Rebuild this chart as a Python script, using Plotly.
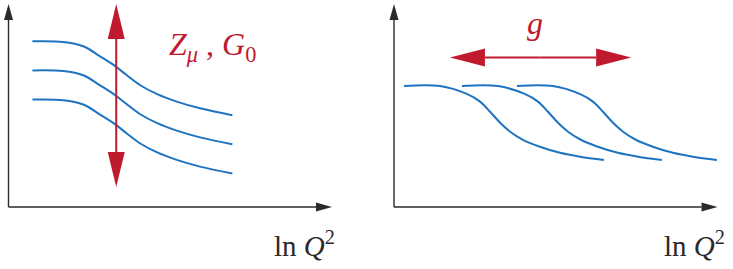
import plotly.graph_objects as go

# ---------------- data (axis units: both axes run 0..10, 10 = arrow tip) -------------
left_x = [0.74, 1.69, 2.31, 2.83, 3.29, 3.65, 4.06, 4.58, 5.20, 5.92, 6.92]
left_top = [8.16, 8.13, 7.92, 7.42, 6.95, 6.50, 6.01, 5.57, 5.19, 4.86, 4.52]
left_mid = [6.73, 6.70, 6.49, 5.99, 5.52, 5.07, 4.58, 4.14, 3.76, 3.43, 3.09]
left_bot = [5.29, 5.26, 5.05, 4.55, 4.08, 3.63, 3.14, 2.70, 2.32, 1.99, 1.65]

right_y = [5.96, 5.96, 5.57, 5.19, 4.69, 4.15, 3.71, 3.30, 2.97, 2.67, 2.48, 2.32]
right_x1 = [0.31, 1.42, 2.25, 2.66, 2.97, 3.28, 3.59, 4.00, 4.51, 5.13, 5.75, 6.49]
right_x2 = [2.10, 3.21, 4.04, 4.45, 4.76, 5.07, 5.38, 5.79, 6.30, 6.92, 7.54, 8.28]
right_x3 = [3.80, 4.91, 5.74, 6.15, 6.46, 6.77, 7.08, 7.49, 8.00, 8.62, 9.24, 9.98]

label_left = "<i>Z</i><sub><i>μ</i></sub> , <i>G</i><sub>0</sub>"
label_right = "<i>g</i>"
axis_label = "ln <i>Q</i><sup>2</sup>"

# ---------------- layout geometry (pixels) ----------------
W, H = 733, 269
PX_X = 32.35   # pixels per x unit
PX_Y = 20.3    # pixels per y unit
ORIG_Y = 207.0
LEFT_ORIG_X = 8.5
RIGHT_ORIG_X = 394.0
XR = [-0.25, 10.2]
YR = [-0.5, 10.15]

BLUE = "#1f74c1"
RED = "#c01a2e"
AX = "#2a2a2a"


def xdom(orig):
    return [(orig + XR[0] * PX_X) / W, (orig + XR[1] * PX_X) / W]


ydom = [(H - (ORIG_Y - YR[0] * PX_Y)) / H, (H - (ORIG_Y - YR[1] * PX_Y)) / H]

fig = go.Figure()
line_style = dict(color=BLUE, width=2, shape="spline", smoothing=1.0)
for ys in (left_top, left_mid, left_bot):
    fig.add_trace(go.Scatter(x=left_x, y=ys, mode="lines", line=line_style,
                             xaxis="x", yaxis="y", hoverinfo="skip", showlegend=False))
for xs in (right_x1, right_x2, right_x3):
    fig.add_trace(go.Scatter(x=xs, y=right_y, mode="lines", line=line_style,
                             xaxis="x2", yaxis="y2", hoverinfo="skip", showlegend=False))

shapes = []


def arrow(xref, yref, x0, y0, x1, y1, color, width, head_len_px, head_half_px):
    """line from (x0,y0) to tip (x1,y1) with a filled triangular head at the tip"""
    if x0 == x1:  # vertical
        s = 1 if y1 > y0 else -1
        hl = head_len_px / PX_Y
        hw = head_half_px / PX_X
        by = y1 - s * hl
        shapes.append(dict(type="line", xref=xref, yref=yref, x0=x0, y0=y0, x1=x1, y1=by,
                           line=dict(color=color, width=width)))
        path = f"M{x1-hw},{by} L{x1+hw},{by} L{x1},{y1} Z"
    else:  # horizontal
        s = 1 if x1 > x0 else -1
        hl = head_len_px / PX_X
        hw = head_half_px / PX_Y
        bx = x1 - s * hl
        shapes.append(dict(type="line", xref=xref, yref=yref, x0=x0, y0=y0, x1=bx, y1=y1,
                           line=dict(color=color, width=width)))
        path = f"M{bx},{y1-hw} L{bx},{y1+hw} L{x1},{y1} Z"
    shapes.append(dict(type="path", xref=xref, yref=yref, path=path,
                       fillcolor=color, line=dict(width=0)))


for xr, yr in (("x", "y"), ("x2", "y2")):
    arrow(xr, yr, 0, 0, 0, 10, AX, 1.4, 16, 4.5)
    arrow(xr, yr, 0, 0, 10, 0, AX, 1.4, 16, 4.5)

# red double arrows
arrow("x", "y", 3.33, 5.5, 3.33, 10, RED, 2, 35, 8.5)
arrow("x", "y", 3.33, 5.5, 3.33, 0.99, RED, 2, 35, 8.5)
arrow("x2", "y2", 4.5, 7.37, 1.73, 7.37, RED, 2, 35, 9)
arrow("x2", "y2", 4.5, 7.37, 7.33, 7.37, RED, 2, 35, 9)


def px(x, y):
    return x / W, 1 - y / H


FONT = "Liberation Serif"
annotations = []
ax_, ay_ = px(212, 46)
annotations.append(dict(text=label_left, x=ax_, y=ay_, xref="paper", yref="paper",
                        xanchor="center", yanchor="middle", showarrow=False,
                        font=dict(family=FONT, size=32, color=RED)))
ax_, ay_ = px(535, 23)
annotations.append(dict(text=label_right, x=ax_, y=ay_, xref="paper", yref="paper",
                        xanchor="center", yanchor="middle", showarrow=False,
                        font=dict(family=FONT, size=32, color=RED)))
for lx in (272, 662):
    ax_, ay_ = px(lx, 244)
    annotations.append(dict(text=axis_label, x=ax_, y=ay_, xref="paper", yref="paper",
                            xanchor="left", yanchor="middle", showarrow=False,
                            font=dict(family=FONT, size=29, color=AX)))

hidden = dict(visible=False, fixedrange=True)
fig.update_layout(
    width=W, height=H, margin=dict(l=0, r=0, t=0, b=0),
    paper_bgcolor="white", plot_bgcolor="white",
    xaxis=dict(domain=xdom(LEFT_ORIG_X), range=XR, anchor="y", **hidden),
    yaxis=dict(domain=ydom, range=YR, anchor="x", **hidden),
    xaxis2=dict(domain=xdom(RIGHT_ORIG_X), range=XR, anchor="y2", **hidden),
    yaxis2=dict(domain=ydom, range=YR, anchor="x2", **hidden),
    shapes=shapes, annotations=annotations, showlegend=False,
)

fig.write_html("out.html", config={"displayModeBar": False},
               post_script="document.body.style.margin='0';document.body.style.overflow='hidden';")
